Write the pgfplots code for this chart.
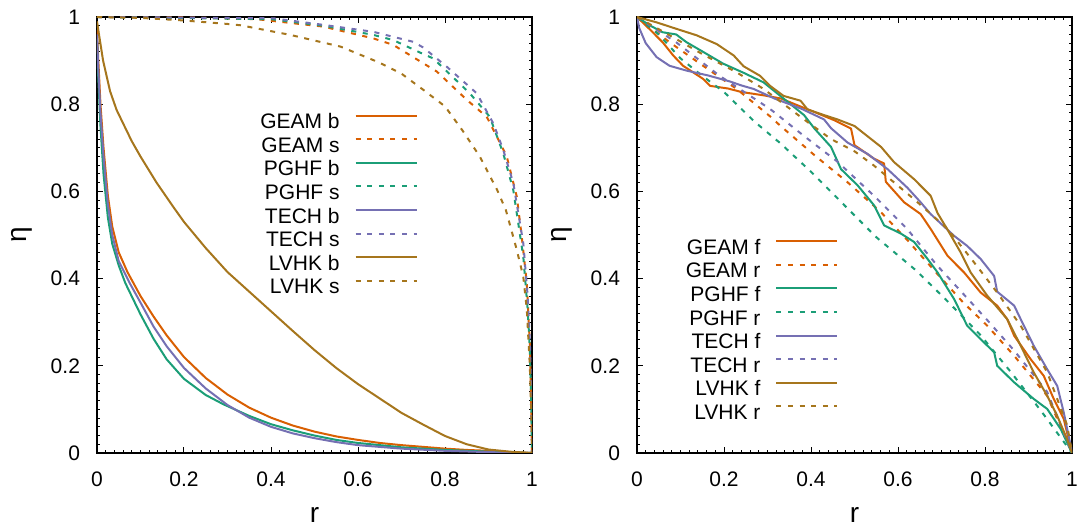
\documentclass[border=0pt]{standalone}
\usepackage{pgfplots}
\pgfplotsset{compat=1.18}
\usepackage{fontspec}
\setmainfont{Liberation Sans}
\definecolor{cO}{HTML}{D95F02}
\definecolor{cG}{HTML}{1B9E77}
\definecolor{cP}{HTML}{7570B3}
\definecolor{cB}{HTML}{A6761D}
\pgfplotsset{
 myax/.style={
  scale only axis, width=217.5pt, height=218pt,
  xmin=0,xmax=1,ymin=0,ymax=1,
  xtick={0,0.2,0.4,0.6,0.8,1}, ytick={0,0.2,0.4,0.6,0.8,1},
  minor tick num=9, tick align=inside, tick pos=both,
  major tick length=3pt, minor tick length=1.5pt,
  axis line style={line width=0.9pt},
  every tick/.style={black, line width=0.5pt},
  tick label style={font=\fontsize{10.5}{12}\selectfont},
  /pgf/number format/assume math mode=true,
  xticklabel style={yshift=-6pt},
  yticklabel style={xshift=-5pt},
  xlabel={r}, ylabel={η},
  label style={font=\fontsize{14}{16}\selectfont},
  ylabel style={at={(axis description cs:-0.172,0.5)}, anchor=center},
  xlabel style={at={(axis description cs:0.5,-0.142)}, anchor=center},
  legend plot pos=right,
  legend cell align=right,
  legend image code/.code={\draw[##1] (0pt,3.7pt) -- (30.5pt,3.7pt);},
  legend style={draw=none, fill=none, inner sep=0pt, font=\fontsize{10.5}{12}\selectfont, column sep=6.5pt, nodes={inner sep=1pt, text height=7.8pt, text depth=2pt}},
  every axis plot/.append style={line width=1pt, line join=round},
 },
 sd/.style={dash pattern=on 2.5pt off 3.3pt},
}
\begin{document}
\begin{tikzpicture}
\path[use as bounding box] (-48.5pt,-37.5pt) rectangle (491.5pt,226.5pt);
\begin{axis}[myax, legend style={at={(0.738,0.785)}, anchor=north east}]
% GEAM b
\addplot[cO] coordinates {(0,0.97) (0.003,0.9) (0.008,0.8) (0.015,0.7) (0.025,0.59) (0.035,0.52) (0.05,0.46) (0.07,0.415) (0.1,0.36) (0.13,0.313) (0.16,0.27) (0.2,0.22) (0.25,0.172) (0.3,0.134) (0.35,0.104) (0.4,0.081) (0.45,0.063) (0.5,0.049) (0.55,0.038) (0.6,0.03) (0.65,0.023) (0.7,0.018) (0.75,0.014) (0.8,0.01) (0.85,0.007) (0.9,0.005) (0.95,0.002) (1,0)};
\addlegendentry{GEAM b}
% GEAM s
\addplot[cO,sd] coordinates {(0,1) (0.2,0.999) (0.367,0.995) (0.52,0.978) (0.635,0.951) (0.681,0.936) (0.712,0.917) (0.781,0.875) (0.85,0.81) (0.896,0.771) (0.919,0.726) (0.942,0.68) (0.965,0.588) (0.976,0.5) (0.988,0.39) (0.995,0.25) (0.998,0.12) (1,0)};
\addlegendentry{GEAM s}
% PGHF b
\addplot[cG] coordinates {(0,0.95) (0.003,0.86) (0.008,0.75) (0.015,0.64) (0.025,0.54) (0.035,0.48) (0.05,0.43) (0.065,0.39) (0.1,0.318) (0.13,0.262) (0.16,0.215) (0.2,0.17) (0.25,0.133) (0.29,0.112) (0.35,0.085) (0.4,0.066) (0.45,0.052) (0.5,0.04) (0.55,0.03) (0.6,0.023) (0.7,0.013) (0.8,0.007) (0.9,0.003) (1,0)};
\addlegendentry{PGHF b}
% PGHF s
\addplot[cG,sd] coordinates {(0,1) (0.4,0.995) (0.52,0.98) (0.635,0.959) (0.681,0.947) (0.75,0.915) (0.773,0.905) (0.857,0.825) (0.903,0.771) (0.934,0.687) (0.957,0.603) (0.98,0.45) (0.99,0.33) (0.995,0.24) (0.998,0.12) (1,0)};
\addlegendentry{PGHF s}
% TECH b
\addplot[cP] coordinates {(0,0.96) (0.003,0.88) (0.008,0.78) (0.015,0.68) (0.025,0.57) (0.035,0.5) (0.05,0.44) (0.075,0.39) (0.1,0.345) (0.13,0.29) (0.16,0.245) (0.2,0.195) (0.25,0.148) (0.3,0.11) (0.35,0.081) (0.4,0.06) (0.45,0.045) (0.5,0.034) (0.55,0.025) (0.6,0.018) (0.7,0.01) (0.8,0.005) (0.9,0.002) (1,0)};
\addlegendentry{TECH b}
% TECH s
\addplot[cP,sd] coordinates {(0,1) (0.405,0.997) (0.52,0.982) (0.635,0.966) (0.727,0.943) (0.75,0.93) (0.804,0.886) (0.873,0.825) (0.911,0.756) (0.934,0.695) (0.957,0.619) (0.98,0.481) (0.99,0.36) (0.995,0.26) (0.998,0.13) (1,0)};
\addlegendentry{TECH s}
% LVHK b
\addplot[cB] coordinates {(0,0.99) (0.003,0.97) (0.014,0.9) (0.03,0.83) (0.045,0.787) (0.06,0.756) (0.08,0.715) (0.1,0.68) (0.137,0.62) (0.175,0.565) (0.2,0.53) (0.25,0.47) (0.3,0.415) (0.35,0.37) (0.4,0.325) (0.45,0.28) (0.5,0.236) (0.55,0.195) (0.6,0.158) (0.65,0.125) (0.7,0.092) (0.75,0.065) (0.8,0.039) (0.85,0.02) (0.9,0.008) (0.95,0.003) (1,0)};
\addlegendentry{LVHK b}
% LVHK s
\addplot[cB,sd] coordinates {(0,1) (0.1,0.998) (0.2,0.992) (0.3,0.984) (0.33,0.981) (0.444,0.959) (0.56,0.932) (0.65,0.895) (0.7,0.87) (0.75,0.833) (0.8,0.795) (0.84,0.74) (0.88,0.68) (0.92,0.603) (0.94,0.557) (0.965,0.466) (0.98,0.404) (0.988,0.33) (0.995,0.2) (0.998,0.1) (1,0)};
\addlegendentry{LVHK s}
\end{axis}
\begin{axis}[myax, xshift=270pt, legend style={at={(0.464,0.497)}, anchor=north east}]
% GEAM f
\addplot[cO] coordinates {(0,1) (0.028,0.973) (0.059,0.942) (0.083,0.912) (0.106,0.888) (0.129,0.873) (0.152,0.858) (0.168,0.842) (0.209,0.836) (0.24,0.828) (0.293,0.82) (0.331,0.813) (0.37,0.797) (0.408,0.782) (0.454,0.763) (0.492,0.744) (0.5,0.706) (0.545,0.675) (0.568,0.664) (0.572,0.622) (0.614,0.575) (0.652,0.548) (0.675,0.514) (0.714,0.452) (0.752,0.414) (0.79,0.368) (0.828,0.338) (0.851,0.307) (0.867,0.269) (0.905,0.215) (0.935,0.177) (0.958,0.124) (0.981,0.078) (1,0)};
\addlegendentry{GEAM f}
% GEAM r
\addplot[cO,sd] coordinates {(0,1) (0.075,0.942) (0.152,0.888) (0.229,0.835) (0.306,0.772) (0.33,0.75) (0.408,0.683) (0.484,0.621) (0.561,0.552) (0.62,0.49) (0.691,0.41) (0.75,0.345) (0.805,0.292) (0.867,0.223) (0.943,0.131) (1,0)};
\addlegendentry{GEAM r}
% PGHF f
\addplot[cG] coordinates {(0,1) (0.029,0.981) (0.059,0.965) (0.09,0.96) (0.114,0.942) (0.152,0.92) (0.198,0.893) (0.245,0.872) (0.291,0.85) (0.322,0.825) (0.353,0.8) (0.384,0.775) (0.408,0.744) (0.446,0.702) (0.469,0.651) (0.507,0.614) (0.545,0.568) (0.568,0.522) (0.607,0.503) (0.637,0.484) (0.668,0.445) (0.691,0.414) (0.729,0.353) (0.759,0.292) (0.79,0.261) (0.821,0.231) (0.828,0.2) (0.867,0.162) (0.912,0.124) (0.943,0.101) (0.974,0.055) (1,0)};
\addlegendentry{PGHF f}
% PGHF r
\addplot[cG,sd] coordinates {(0,1) (0.05,0.96) (0.1,0.905) (0.15,0.865) (0.2,0.828) (0.27,0.76) (0.33,0.71) (0.4,0.645) (0.47,0.575) (0.55,0.495) (0.64,0.42) (0.71,0.352) (0.79,0.27) (0.86,0.185) (0.93,0.095) (1,0)};
\addlegendentry{PGHF r}
% TECH f
\addplot[cP] coordinates {(0,1) (0.005,0.975) (0.02,0.94) (0.045,0.908) (0.075,0.888) (0.114,0.877) (0.163,0.866) (0.214,0.852) (0.24,0.843) (0.268,0.835) (0.316,0.813) (0.377,0.79) (0.43,0.765) (0.446,0.745) (0.484,0.712) (0.53,0.686) (0.576,0.651) (0.622,0.608) (0.652,0.575) (0.675,0.548) (0.729,0.498) (0.759,0.475) (0.79,0.445) (0.821,0.406) (0.828,0.37) (0.867,0.338) (0.882,0.307) (0.912,0.246) (0.943,0.192) (0.966,0.154) (0.981,0.093) (0.997,0.016) (1,0)};
\addlegendentry{TECH f}
% TECH r
\addplot[cP,sd] coordinates {(0,1) (0.09,0.942) (0.19,0.865) (0.306,0.789) (0.384,0.727) (0.461,0.668) (0.55,0.585) (0.62,0.515) (0.69,0.43) (0.75,0.365) (0.805,0.305) (0.867,0.235) (0.943,0.14) (1,0)};
\addlegendentry{TECH r}
% LVHK f
\addplot[cB] coordinates {(0,1) (0.044,0.988) (0.09,0.973) (0.137,0.958) (0.183,0.938) (0.222,0.912) (0.245,0.887) (0.283,0.865) (0.306,0.842) (0.337,0.819) (0.376,0.808) (0.392,0.788) (0.43,0.775) (0.461,0.765) (0.5,0.75) (0.561,0.702) (0.591,0.667) (0.637,0.628) (0.675,0.59) (0.691,0.55) (0.714,0.512) (0.744,0.46) (0.767,0.414) (0.805,0.361) (0.851,0.307) (0.882,0.246) (0.912,0.185) (0.943,0.131) (0.966,0.085) (0.989,0.031) (1,0)};
\addlegendentry{LVHK f}
% LVHK r
\addplot[cB,sd] coordinates {(0,1) (0.075,0.958) (0.15,0.915) (0.229,0.873) (0.291,0.835) (0.384,0.765) (0.446,0.72) (0.5,0.692) (0.545,0.659) (0.637,0.582) (0.714,0.514) (0.775,0.437) (0.828,0.368) (0.882,0.292) (0.943,0.185) (0.989,0.063) (1,0)};
\addlegendentry{LVHK r}
\end{axis}
\end{tikzpicture}
\end{document}
